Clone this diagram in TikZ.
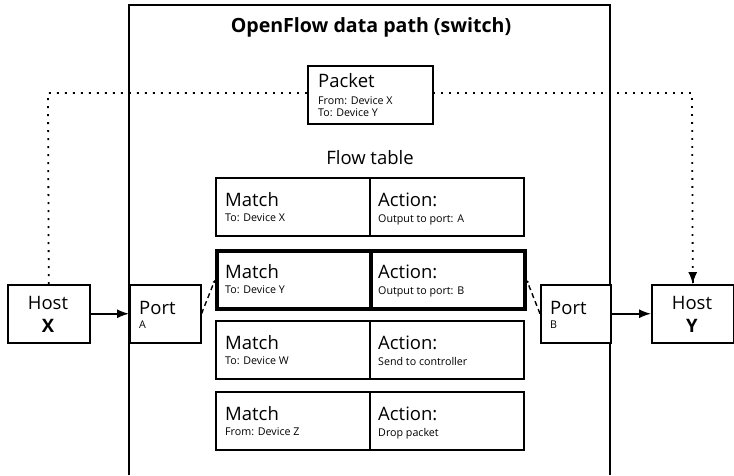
\documentclass[tikz,border=0pt]{standalone}
\usepackage{fontspec}
\setmainfont{Open Sans}
\usetikzlibrary{arrows.meta,calc}

\tikzset{
  box/.style={draw, line width=1.5pt, fill=white, inner sep=0pt, anchor=north west},
  hot/.style={draw, line width=3.6pt, inner sep=0pt, anchor=north west},
  big/.style={font=\fontsize{18.5}{21}\selectfont, inner sep=0pt},
  small/.style={font=\fontsize{10.7}{12}\selectfont, inner sep=0pt},
  link/.style={line width=1.5pt, -{Latex[length=12pt,width=9pt]}},
  hop/.style={line width=1.4pt, dash pattern=on 5pt off 3.5pt, -{Latex[length=3pt,width=3pt]}},
  trail/.style={line width=1.8pt, dash pattern=on 1.8pt off 6.2pt, line cap=butt}
}

\begin{document}
\begin{tikzpicture}[x=1pt, y=-1pt]
\useasboundingbox (0,0) rectangle (734,475);

% switch frame (open at the bottom)
\draw[line width=1.3pt] (129,475) -- (129,5) -- (610,5) -- (610,475);
\node[font=\fontsize{19.6}{22}\selectfont\bfseries, anchor=base, inner sep=0pt] (title) at (371,32) {OpenFlow data path (switch)};

% hosts and ports
\node[box, minimum width=82pt, minimum height=58pt] (hx) at (7,284) {};
\node[big, anchor=base] (hxa) at (48,309) {Host};
\node[big, anchor=base] (hxb) at (48,332) {\bfseries X};

\node[box, minimum width=82pt, minimum height=58pt] (hy) at (651,284) {};
\node[big, anchor=base] (hya) at (692,309) {Host};
\node[big, anchor=base] (hyb) at (692,332) {\bfseries Y};

\node[box, minimum width=71pt, minimum height=58pt] (pa) at (129,284) {};
\node[big, anchor=base west] (paa) at (139,314) {Port};
\node[small, anchor=base west] (pab) at (139,328) {A};

\node[box, minimum width=70pt, minimum height=58pt] (pb) at (540,284) {};
\node[big, anchor=base west] (pba) at (550,314) {Port};
\node[small, anchor=base west] (pbb) at (550,328) {B};

% dotted route of the packet
\coordinate (c1) at (48,93);
\coordinate (c2) at (692,93);
\draw[trail] (hx.north) -- (c1) -- (c2) -- ($(hy.north)+(0,-10)$);
\draw[line width=1.5pt, -{Latex[length=12pt,width=9pt]}] ($(hy.north)+(0,-1)$) -- (hy.north);

% packet
\node[box, minimum width=125pt, minimum height=58pt] (pk) at (307,65) {};
\node[big, anchor=base west] (pk1) at (318,87) {Packet};
\node[small, anchor=base west] (pk2) at (318,104) {From: Device X};
\node[small, anchor=base west] (pk3) at (318,116) {To: Device Y};

% flow table
\node[big, anchor=base] (ft) at (370,164) {Flow table};

\foreach \r/\y/\st/\m/\a in {
  1/177/box/To: Device X/Output to port: A,
  2/249/hot/To: Device Y/Output to port: B,
  3/320/box/To: Device W/Send to controller,
  4/391/box/From: Device Z/Drop packet}{
  \node[\st, minimum width=154pt, minimum height=58pt] (m\r) at (215,\y) {};
  \node[\st, minimum width=154pt, minimum height=58pt] (a\r) at (369,\y) {};
  \node[big, anchor=base west] (mt\r) at (225,\y+29) {Match};
  \node[small, anchor=base west] (ms\r) at (225,\y+44) {\m};
  \node[big, anchor=base west] (at\r) at (378,\y+29) {Action:};
  \node[small, anchor=base west] (as\r) at (378,\y+45) {\a};
}

% connectors
\draw[link] (hx.east) -- (pa.west);
\draw[link] (pb.east) -- (hy.west);
\draw[hop] (pa.east) -- (m2.west);
\draw[hop] (pb.west) -- (a2.east);
\end{tikzpicture}
\end{document}
